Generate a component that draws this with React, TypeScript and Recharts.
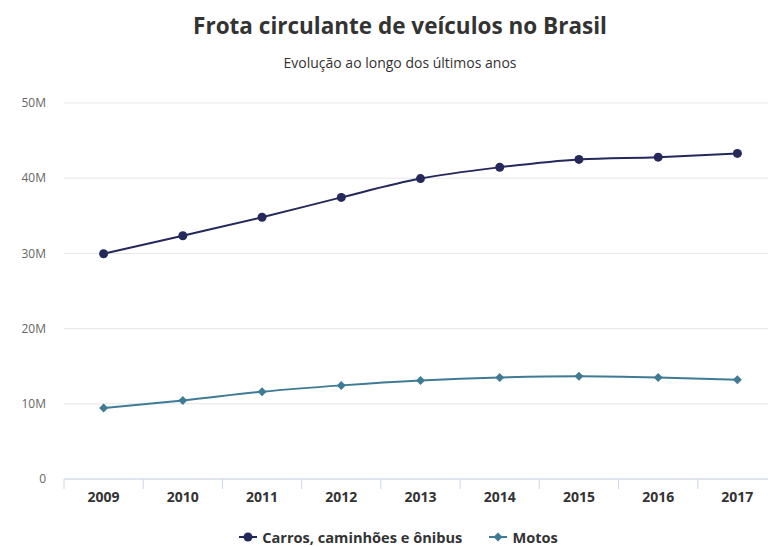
import { CartesianGrid, Legend, Line, LineChart, XAxis, YAxis } from 'recharts'

const years = ['2009', '2010', '2011', '2012', '2013', '2014', '2015', '2016', '2017']
const carros = [29.95, 32.35, 34.8, 37.45, 39.95, 41.45, 42.5, 42.8, 43.3]
const motos = [9.45, 10.45, 11.6, 12.45, 13.1, 13.5, 13.65, 13.5, 13.2]
const yTicks = [0, 10, 20, 30, 40, 50]

const CARROS = '#24285b'
const MOTOS = '#3f7b95'
const FONT = '"Open Sans", sans-serif'

const data = years.map((year, i) => ({
	year,
	carros: carros[i],
	motos: motos[i],
}))

function formatMillions(value: number): string {
	return value === 0 ? '0' : `${value}M`
}

function Diamond({ cx, cy, r, fill }: { cx?: number; cy?: number; r: number; fill: string }) {
	if (cx == null || cy == null) return null
	return (
		<path
			d={`M${cx},${cy - r} L${cx + r},${cy} L${cx},${cy + r} L${cx - r},${cy} Z`}
			fill={fill}
		/>
	)
}

function YearTick({ x, y, payload }: { x?: number; y?: number; payload?: { value: string; offset?: number } }) {
	if (x == null || y == null || !payload) return null
	const left = x - (payload.offset ?? 0)
	return (
		<g>
			<line x1={left} x2={left} y1={y} y2={y + 10} stroke="#ccd6eb" />
			<text
				x={x}
				y={y + 23}
				textAnchor="middle"
				fill="#333333"
				fontSize={14}
				fontWeight={700}
				fontFamily={FONT}
			>
				{payload.value}
			</text>
		</g>
	)
}

function LegendContent({ payload }: { payload?: { value: string; color: string; dataKey?: string }[] }) {
	if (!payload) return null
	return (
		<div
			style={{
				display: 'flex',
				justifyContent: 'center',
				gap: 27,
				paddingTop: 21,
				paddingLeft: 20,
				fontFamily: FONT,
				fontSize: 14.6,
				fontWeight: 700,
				color: '#333333',
				lineHeight: '14px',
			}}
		>
			{payload.map((item) => (
				<div key={item.value} style={{ display: 'flex', alignItems: 'center', gap: 5 }}>
					<svg width={18} height={12}>
						<line x1={0} x2={18} y1={6} y2={6} stroke={item.color} strokeWidth={2} />
						{item.dataKey === 'motos' ? (
							<Diamond cx={9} cy={6} r={4.5} fill={item.color} />
						) : (
							<circle cx={9} cy={6} r={4.5} fill={item.color} />
						)}
					</svg>
					<span>{item.value}</span>
				</div>
			))}
		</div>
	)
}

export default function App() {
	return (
		<div
			style={{
				position: 'absolute',
				left: 0,
				top: 0,
				width: 768,
				height: 547,
				overflow: 'hidden',
				background: '#ffffff',
			}}
		>
			<div
				style={{
					position: 'absolute',
					top: 11,
					left: 0,
					width: 800,
					textAlign: 'center',
					fontFamily: FONT,
					fontSize: 22.5,
					fontWeight: 700,
					lineHeight: '30px',
					color: '#333333',
				}}
			>
				Frota circulante de veículos no Brasil
			</div>
			<div
				style={{
					position: 'absolute',
					top: 53,
					left: 0,
					width: 800,
					textAlign: 'center',
					fontFamily: FONT,
					fontSize: 14,
					lineHeight: '20px',
					color: '#333333',
				}}
			>
				Evolução ao longo dos últimos anos
			</div>
			<LineChart
				width={800}
				height={547}
				data={data}
				margin={{ top: 103, right: 23, left: 0, bottom: 0 }}
			>
				<CartesianGrid vertical={false} stroke="#e6e6e6" />
				<XAxis
					dataKey="year"
					scale="band"
					height={30}
					axisLine={{ stroke: '#ccd6eb' }}
					tickLine={false}
					tickSize={0}
					tickMargin={0}
					interval={0}
					tick={<YearTick />}
				/>
				<YAxis
					width={64}
					domain={[0, 50]}
					ticks={yTicks}
					tickFormatter={formatMillions}
					axisLine={false}
					tickLine={false}
					tickSize={0}
					tickMargin={18}
					tick={{ fill: '#666666', fontSize: 12, fontFamily: FONT }}
				/>
				<Legend
					verticalAlign="bottom"
					wrapperStyle={{ height: 38 }}
					content={<LegendContent />}
				/>
				<Line
					type="monotone"
					dataKey="carros"
					name="Carros, caminhões e ônibus"
					stroke={CARROS}
					strokeWidth={2}
					dot={{ r: 4.5, fill: CARROS, stroke: CARROS, strokeWidth: 0 }}
					activeDot={false}
					isAnimationActive={false}
				/>
				<Line
					type="monotone"
					dataKey="motos"
					name="Motos"
					stroke={MOTOS}
					strokeWidth={2}
					dot={(props: { cx?: number; cy?: number; index?: number }) => (
						<Diamond key={props.index} cx={props.cx} cy={props.cy} r={4.5} fill={MOTOS} />
					)}
					activeDot={false}
					isAnimationActive={false}
				/>
			</LineChart>
		</div>
	)
}
